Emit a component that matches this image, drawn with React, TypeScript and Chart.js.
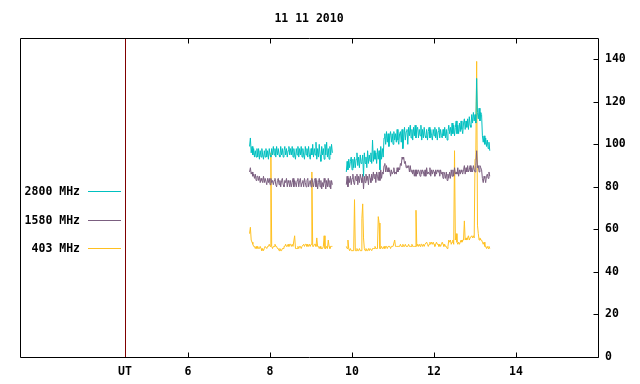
import React, { useEffect, useRef } from "react";
import { Chart, registerables } from "chart.js";

Chart.register(...registerables);

const TITLE = "11 11 2010";
const SERIES_LABELS = ["2800 MHz", "1580 MHz", "403 MHz"];
const SERIES_COLORS = ["#00c0c0", "#7b5f80", "#ffc020"];
const UT_COLOR = "#800000";

const X_MIN = 1.9;
const X_MAX = 16;
const Y_MIN = 0;
const Y_MAX = 150;
const X_TICKS = [6, 8, 10, 12, 14];
const Y_TICKS = [0, 20, 40, 60, 80, 100, 120, 140];
const UT_POS = 4.46;
const UT_LABEL = "UT";

// time sampling of the two observing segments (UT hours)
const SEG1_START = 7.5;
const SEG2_START = 9.86;
const STEP = 0.02;

const flux2800Seg1 = [
  99, 103, 96, 99, 95, 98, 94, 97, 94, 98,
  94, 98, 93, 97, 94, 98, 95, 93, 97, 94,
  98, 94, 97, 93, 98, 95, 94, 98, 95, 99,
  95, 98, 94, 99, 95, 98, 95, 94, 99, 95,
  98, 94, 97, 99, 95, 98, 94, 97, 99, 95,
  98, 95, 99, 94, 98, 95, 93, 98, 95, 99,
  94, 98, 95, 99, 94, 98, 95, 93, 99, 95,
  98, 94, 99, 95, 93, 98, 95, 100, 94, 98,
  95, 101, 93, 98, 94, 100, 95, 92, 99, 95,
  98, 93, 100, 95, 101, 94, 98, 93, 99, 95,
  100, 96,
];
const flux2800Seg2 = [
  87, 92, 88, 93, 89, 92, 94, 88, 93, 89,
  94, 89, 93, 96, 90, 94, 89, 95, 91, 92,
  95, 85, 96, 91, 94, 89, 97, 91, 95, 92,
  96, 91, 102, 92, 97, 93, 96, 91, 98, 93,
  97, 88, 99, 93, 98, 94, 103, 105, 100, 106,
  101, 105, 99, 104, 106, 101, 105, 100, 106, 102,
  105, 101, 107, 102, 100, 105, 106, 101, 107, 98,
  103, 108, 102, 106, 107, 100, 108, 104, 109, 103,
  107, 102, 108, 104, 109, 103, 107, 108, 103, 107,
  104, 109, 102, 107, 103, 108, 104, 103, 107, 102,
  106, 108, 103, 107, 104, 102, 107, 104, 108, 103,
  107, 102, 106, 108, 103, 107, 104, 103, 107, 104,
  108, 103, 107, 102, 106, 109, 105, 108, 104, 110,
  105, 109, 104, 108, 111, 105, 109, 105, 110, 106,
  111, 107, 105, 110, 112, 107, 111, 108, 112, 107,
  113, 109, 108, 114, 110, 115, 111, 114, 110, 131,
  115, 112, 117, 111, 115, 114, 104, 101, 104, 100,
  103, 99, 102, 98, 101, 97,
];

const flux1580Seg1 = [
  87, 89, 86, 87, 85, 86, 84, 86, 83, 85,
  85, 83, 85, 82, 84, 83, 82, 85, 82, 84,
  84, 81, 84, 82, 84, 81, 84, 82, 83, 81,
  83, 84, 81, 80, 83, 84, 81, 83, 80, 83,
  84, 81, 80, 83, 82, 84, 80, 83, 82, 80,
  83, 80, 82, 84, 80, 83, 82, 80, 83, 84,
  80, 83, 84, 80, 82, 83, 80, 84, 82, 80,
  83, 84, 80, 82, 83, 80, 84, 82, 80, 83,
  84, 80, 83, 79, 82, 84, 80, 83, 79, 82,
  80, 84, 82, 79, 83, 80, 84, 80, 83, 79,
  83, 81,
];
const flux1580Seg2 = [
  81, 85, 80, 84, 82, 85, 81, 84, 86, 82,
  81, 85, 83, 86, 81, 85, 82, 86, 84, 82,
  86, 79, 85, 82, 86, 83, 85, 81, 86, 84,
  82, 86, 83, 87, 84, 86, 82, 87, 85, 83,
  87, 83, 88, 84, 87, 86, 90, 91, 87, 90,
  87, 89, 87, 88, 85, 88, 86, 87, 89, 86,
  87, 86, 89, 87, 89, 88, 91, 90, 94, 93,
  94, 91, 92, 89, 90, 89, 90, 87, 90, 87,
  88, 86, 88, 85, 88, 85, 88, 86, 88, 87,
  85, 88, 86, 88, 87, 85, 88, 85, 89, 86,
  87, 86, 89, 85, 88, 86, 88, 87, 85, 88,
  86, 88, 87, 88, 85, 88, 86, 87, 84, 87,
  86, 84, 87, 83, 86, 84, 87, 84, 88, 85,
  88, 85, 89, 86, 87, 86, 89, 85, 88, 86,
  88, 87, 86, 88, 90, 86, 89, 87, 90, 87,
  88, 90, 87, 89, 87, 90, 88, 87, 90, 97,
  89, 90, 87, 90, 89, 88, 84, 82, 85, 84,
  82, 85, 86, 84, 87, 85,
];

const flux403Seg1 = [
  58, 61, 55, 54, 53, 52, 52, 51, 52, 51,
  52, 51, 51, 52, 51, 50, 51, 50, 51, 52,
  52, 51, 52, 52, 53, 52, 96, 52, 51, 52,
  52, 53, 52, 52, 51, 51, 50, 51, 50, 50,
  51, 51, 52, 52, 53, 52, 52, 53, 52, 53,
  53, 52, 53, 52, 52, 57, 51, 51, 51, 52,
  51, 52, 52, 51, 52, 52, 53, 52, 53, 53,
  52, 53, 52, 53, 52, 53, 87, 52, 52, 53,
  53, 52, 56, 52, 52, 51, 52, 51, 51, 51,
  52, 57, 51, 51, 52, 51, 55, 52, 51, 52,
  52, 52,
];
const flux403Seg2 = [
  52, 51, 55, 51, 50, 51, 50, 50, 50, 50,
  74, 50, 50, 51, 50, 50, 51, 50, 50, 65,
  72, 56, 51, 50, 51, 50, 50, 51, 50, 51,
  51, 50, 51, 51, 51, 52, 51, 51, 51, 66,
  63, 51, 51, 52, 51, 51, 52, 51, 52, 52,
  51, 52, 52, 52, 51, 52, 52, 52, 52, 55,
  52, 52, 52, 52, 52, 52, 53, 52, 52, 53,
  52, 52, 53, 52, 52, 52, 53, 52, 52, 52,
  53, 52, 52, 52, 52, 69, 52, 53, 52, 53,
  52, 53, 53, 52, 53, 52, 53, 53, 54, 53,
  52, 53, 54, 53, 54, 53, 54, 53, 52, 53,
  54, 53, 53, 52, 53, 52, 53, 54, 53, 52,
  53, 52, 52, 51, 52, 55, 54, 55, 53, 54,
  55, 53, 97, 55, 58, 54, 53, 54, 53, 54,
  55, 54, 55, 55, 64, 55, 56, 55, 56, 57,
  55, 56, 56, 57, 56, 57, 56, 93, 96, 139,
  62, 58, 55, 56, 55, 55, 54, 53, 54, 52,
  52, 51, 52, 51, 52, 51,
];

type Pt = { x: number; y: number | null };

function toPoints(seg1: number[], seg2: number[]): Pt[] {
  const pts: Pt[] = seg1.map((v, i) => ({ x: +(SEG1_START + i * STEP).toFixed(2), y: v }));
  const end1 = SEG1_START + (seg1.length - 1) * STEP;
  pts.push({ x: +((end1 + SEG2_START) / 2).toFixed(2), y: null });
  seg2.forEach((v, i) => pts.push({ x: +(SEG2_START + i * STEP).toFixed(2), y: v }));
  return pts;
}

const FONT = "'DejaVu Sans Mono', 'Liberation Mono', monospace";
const FONT_SIZE = 11.5;

const framePlugin = {
  id: "gnuFrame",
  beforeDatasetsDraw(chart: any) {
    const { ctx, chartArea: a, scales } = chart;
    const px = Math.round(scales.x.getPixelForValue(UT_POS)) + 0.5;
    ctx.save();
    ctx.strokeStyle = UT_COLOR;
    ctx.lineWidth = 1;
    ctx.beginPath();
    ctx.moveTo(px, Math.round(a.top));
    ctx.lineTo(px, Math.round(a.bottom));
    ctx.stroke();
    ctx.restore();
  },
  afterDraw(chart: any) {
    const { ctx, chartArea: a, scales } = chart;
    const xs = scales.x;
    const ys = scales.y;
    const L = Math.round(a.left) + 0.5;
    const R = Math.round(a.right) + 0.5;
    const T = Math.round(a.top) + 0.5;
    const B = Math.round(a.bottom) + 0.5;
    ctx.save();
    ctx.strokeStyle = "#000";
    ctx.lineWidth = 1;
    ctx.beginPath();
    ctx.rect(L, T, R - L, B - T);
    ctx.stroke();
    ctx.beginPath();
    X_TICKS.forEach((v) => {
      const px = Math.round(xs.getPixelForValue(v)) + 0.5;
      ctx.moveTo(px, B);
      ctx.lineTo(px, B - 5);
      ctx.moveTo(px, T);
      ctx.lineTo(px, T + 5);
    });
    Y_TICKS.forEach((v) => {
      const py = Math.round(ys.getPixelForValue(v)) + 0.5;
      ctx.moveTo(R, py);
      ctx.lineTo(R - 5, py);
    });
    ctx.stroke();

    // legend inside plot, left side: label then line sample
    ctx.font = `bold ${FONT_SIZE}px ${FONT}`;
    ctx.textAlign = "right";
    ctx.textBaseline = "middle";
    const rowTop = a.top + 153;
    const rowGap = 28.5;
    SERIES_LABELS.forEach((lab, i) => {
      const yy = Math.round(rowTop + i * rowGap) + 0.5;
      ctx.fillStyle = "#000";
      ctx.fillText(lab, a.left + 60, yy + 1);
      ctx.strokeStyle = SERIES_COLORS[i];
      ctx.beginPath();
      ctx.moveTo(a.left + 68, yy);
      ctx.lineTo(a.left + 101, yy);
      ctx.stroke();
    });
    ctx.restore();
  },
};

export default function App() {
  const ref = useRef<HTMLCanvasElement | null>(null);

  useEffect(() => {
    if (!ref.current) return;
    const seriesSegs = [
      [flux2800Seg1, flux2800Seg2],
      [flux1580Seg1, flux1580Seg2],
      [flux403Seg1, flux403Seg2],
    ];
    const datasets: any[] = seriesSegs.map(([s1, s2], i) => ({
      label: SERIES_LABELS[i],
      data: toPoints(s1, s2),
      borderColor: SERIES_COLORS[i],
      backgroundColor: SERIES_COLORS[i],
      borderWidth: 1,
      pointRadius: 0,
      tension: 0,
      spanGaps: false,
      order: i,
    }));

    const tickFont = { family: FONT, size: FONT_SIZE, weight: "bold" as const };

    const chart = new Chart(ref.current, {
      type: "line",
      data: { datasets },
      plugins: [framePlugin],
      options: {
        animation: false,
        responsive: false,
        events: [],
        layout: { padding: { left: 20, right: 0, top: 0, bottom: 0 } },
        plugins: {
          legend: { display: false },
          tooltip: { enabled: false },
          title: {
            display: true,
            text: TITLE,
            color: "#000",
            fullSize: false,
            font: { family: FONT, size: FONT_SIZE, weight: "bold", lineHeight: 1.2 },
            padding: { top: 12, bottom: 12.2 },
          },
        },
        scales: {
          x: {
            type: "linear",
            min: X_MIN,
            max: X_MAX,
            grid: { display: false, drawTicks: false },
            border: { display: false },
            afterBuildTicks: (scale: any) => {
              scale.ticks = [UT_POS, ...X_TICKS].map((v) => ({ value: v }));
            },
            afterFit: (scale: any) => {
              scale.height = 27;
            },
            ticks: {
              color: "#000",
              font: tickFont,
              padding: 8,
              autoSkip: false,
              maxRotation: 0,
              callback: (v: any) => (v === UT_POS ? UT_LABEL : String(v)),
            },
          },
          y: {
            type: "linear",
            position: "right",
            min: Y_MIN,
            max: Y_MAX,
            grid: { display: false, drawTicks: false },
            border: { display: false },
            afterBuildTicks: (scale: any) => {
              scale.ticks = Y_TICKS.map((v) => ({ value: v }));
            },
            afterFit: (scale: any) => {
              scale.width = 42;
            },
            ticks: {
              color: "#000",
              font: tickFont,
              padding: 7,
              callback: (v: any) => String(v),
            },
          },
        },
      },
    });
    return () => chart.destroy();
  }, []);

  return (
    <div style={{ position: "fixed", left: 0, top: 0, width: 640, height: 384, background: "#fff" }}>
      <canvas ref={ref} width={640} height={384} style={{ display: "block" }} />
    </div>
  );
}
